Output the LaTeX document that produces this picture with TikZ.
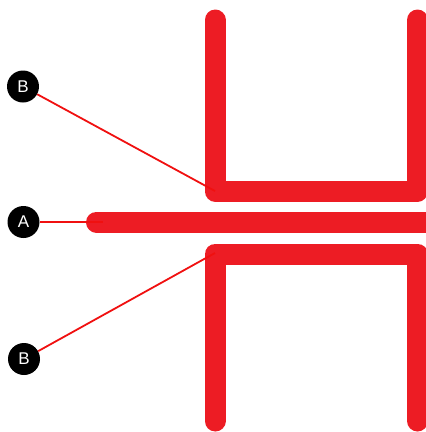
\documentclass[tikz,border=0pt]{standalone}
\usepackage{fontspec}
\setmainfont{Liberation Sans}
\definecolor{barred}{HTML}{ED1C24}
\definecolor{leadred}{HTML}{F01010}
\begin{document}
\begin{tikzpicture}[x=1pt,y=-1pt,
  bar/.style={draw=barred,line width=21pt,line cap=round,line join=round},
  lead/.style={draw=leadred,line width=1.8pt},
  tag/.style={circle,fill=black,minimum size=32pt,inner sep=0pt,text=white,font=\fontsize{17}{17}\selectfont}]
\useasboundingbox (0,0) rectangle (426,432);
\clip (0,0) rectangle (426,432);
% red shapes
\draw[bar] (215,20) -- (215,191) -- (417.5,191) -- (417.5,20);
\draw[bar] (96.5,222) -- (450,222);
\draw[bar] (215,421) -- (215,254) -- (417.5,254) -- (417.5,421);
% anchor points
\coordinate (cu) at (215,191);
\coordinate (cm) at (103,222);
\coordinate (cl) at (215,253);
% labels
\node[tag] (b1) at (23,86.5) {B};
\node[tag] (a) at (23.5,222) {A};
\node[tag] (b2) at (24,359) {B};
% leaders
\draw[lead] (b1) -- (cu);
\draw[lead] (a) -- (cm);
\draw[lead] (b2) -- (cl);
\end{tikzpicture}
\end{document}
